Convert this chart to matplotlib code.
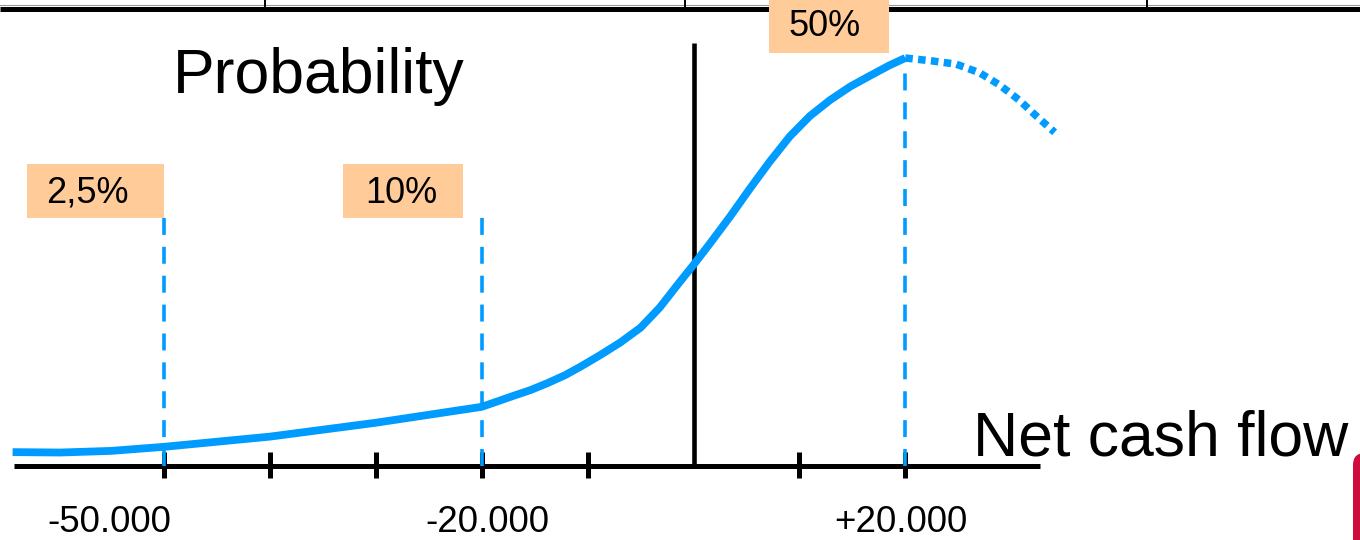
import matplotlib
matplotlib.use("Agg")
import matplotlib.pyplot as plt
from matplotlib.patches import Rectangle, FancyBboxPatch
from matplotlib.transforms import IdentityTransform

plt.rcParams['font.family'] = ['Liberation Sans', 'DejaVu Sans']

# Probability density of net cash flow (relative height, peak = 1)
cash_flow = [-64300, -59800, -55000, -50000, -40000, -30000, -20000, -17000,
             -15400, -13800, -12100, -10700, -8800, -6900, -5000, -3200, -1300,
             0, 1600, 3500, 5300, 7200, 9100, 11000, 12900, 14800, 16700,
             18500, 20000]
density = [0.034, 0.033, 0.037, 0.047, 0.072, 0.106, 0.145, 0.172,
           0.186, 0.203, 0.223, 0.243, 0.272, 0.303, 0.339, 0.388, 0.451,
           0.493, 0.547, 0.613, 0.679, 0.746, 0.808, 0.858, 0.897, 0.930, 0.957,
           0.982, 1.000]

# Continuation beyond the median (drawn dotted)
tail_cash_flow = [20000, 22500, 24800, 27000, 28900, 30750, 32450, 34100]
tail_density = [1.000, 0.993, 0.985, 0.964, 0.934, 0.897, 0.856, 0.818]

# Percentile markers
pct_labels = ['2,5%', '10%', '50%']
pct_values = [-50000, -20000, 20000]

# Axis ticks (zero is marked by the vertical reference line) and labelled values
tick_values = [-50000, -40000, -30000, -20000, -10000, 10000, 20000]
tick_labels = ['-50.000', '-20.000', '+20.000']
tick_label_values = [-50000, -20000, 20000]

BLUE = '#009BFF'
PEACH = '#FFCC99'

fig = plt.figure(figsize=(13.6, 5.4), dpi=100)
ax = fig.add_axes([0, 0, 1, 1])
ax.set_xlim(-65490, 62940)
ax.set_ylim(-0.1814, 1.1422)
ax.axis('off')

# Horizontal axis with tick marks
ax.plot([-64200, 32700], [0, 0], color='black', lw=3.6, solid_capstyle='butt', zorder=2)
for t in tick_values:
    ax.plot([t, t], [-0.029, 0.034], color='black', lw=3.6, solid_capstyle='butt', zorder=2)

# Vertical reference line at zero
ax.plot([0, 0], [0.0, 1.037], color='black', lw=3.3, solid_capstyle='butt', zorder=2)

# Dashed percentile lines
line_tops = [0.627, 0.627, None]
for v, top in zip(pct_values, line_tops):
    if top is None:
        top = density[cash_flow.index(v)]
    ax.plot([v, v], [0, top], color=BLUE, lw=2.6, dashes=(4.7, 3.3),
            dash_capstyle='butt', zorder=3)

# Density curve
ax.plot(cash_flow, density, color=BLUE, lw=5.6, solid_joinstyle='round',
        solid_capstyle='butt', zorder=4)
ax.plot(tail_cash_flow, tail_density, color=BLUE, lw=5.4, dashes=(1.0, 0.72),
        dash_capstyle='butt', zorder=4)

# Percentile label boxes
box_left = [-62940, -33100, 7130]
box_right = [-50000, -21800, 18460]
box_bottom = [0.608, 0.608, 1.012]
box_top = [0.740, 0.740, 1.16]
text_left = [-61150, -31020, 9010]
text_base = [0.645, 0.645, 1.054]
for lab, l, r, b, t, tx, ty in zip(pct_labels, box_left, box_right, box_bottom,
                                   box_top, text_left, text_base):
    ax.add_patch(Rectangle((l, b), r - l, t - b, facecolor=PEACH,
                           edgecolor='none', zorder=5))
    ax.text(tx, ty, lab, fontsize=26, ha='left', va='baseline', zorder=6)

# Tick labels
label_left = [-61000, -25300, 13300]
for lab, x in zip(tick_labels, label_left):
    ax.text(x, -0.162, lab, fontsize=26.5, ha='left', va='baseline')

# Axis titles
ax.text(-49200, 0.914, 'Probability', fontsize=45, ha='left', va='baseline')
ax.text(26400, 0.0245, 'Net cash flow', fontsize=45, ha='left', va='baseline')

# Frame line across the top with separators
ax.plot([0, 1], [1 - 5 / 540, 1 - 5 / 540], transform=ax.transAxes,
        color='#999999', lw=0.8, clip_on=False)
ax.plot([0, 1], [1 - 8.5 / 540, 1 - 8.5 / 540], transform=ax.transAxes,
        color='black', lw=3.6, solid_capstyle='butt', clip_on=False)
for sx in [265, 685, 1147]:
    ax.plot([sx / 1360, sx / 1360], [1, 1 - 11 / 540], transform=ax.transAxes,
            color='black', lw=1.4, clip_on=False)

# Corner shape at the bottom right edge
ax.add_patch(FancyBboxPatch((1353, -20), 40, 107,
                            boxstyle='round,pad=0,rounding_size=12',
                            transform=IdentityTransform(), facecolor='#CF0A3C',
                            edgecolor='none', clip_on=False, zorder=1))

fig.savefig('out.png', dpi=100)
